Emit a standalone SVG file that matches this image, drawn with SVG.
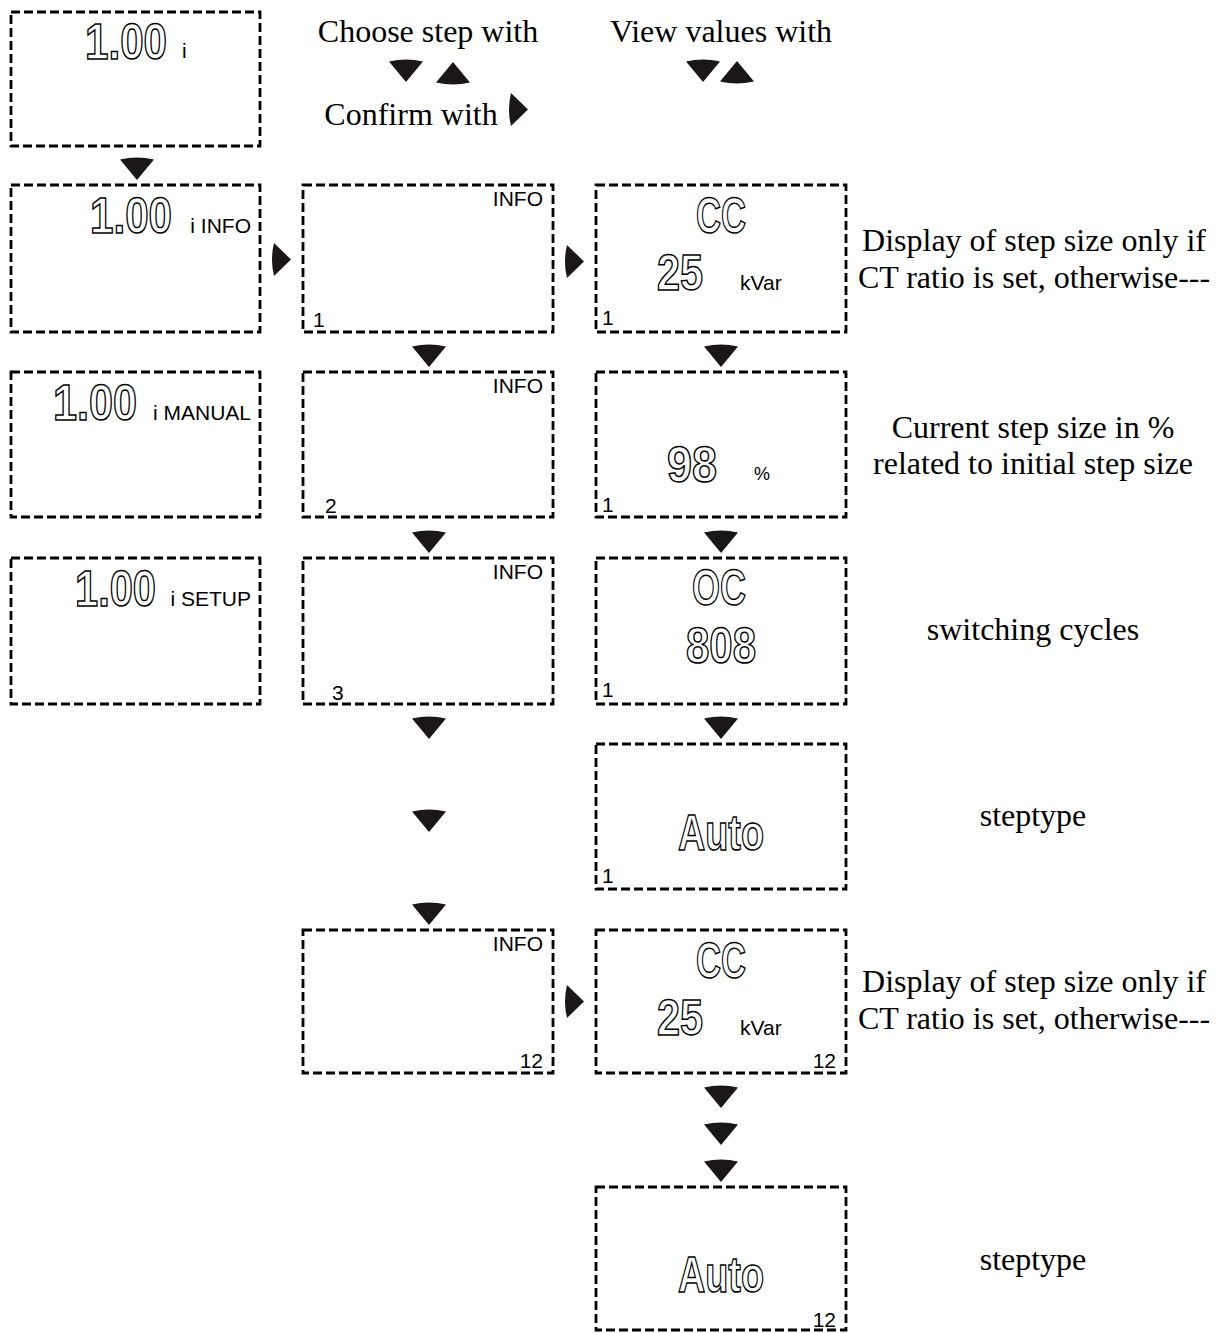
<svg xmlns="http://www.w3.org/2000/svg" xmlns:xlink="http://www.w3.org/1999/xlink" width="1219" height="1333" viewBox="0 0 1219 1333">
<style>
.box{fill:none;stroke:#000;stroke-width:2.8;stroke-dasharray:9,4}
.big{font-family:"Liberation Sans",Arial,sans-serif;font-size:50px;font-weight:bold;fill:#fff;stroke:#000;stroke-width:1.5}
.lbl{font-family:"Liberation Sans",Arial,sans-serif;font-size:21px;fill:#000}
.sm{font-family:"Liberation Sans",Arial,sans-serif;font-size:21px;fill:#000}
.tx{font-family:"Liberation Serif","Times New Roman",serif;font-size:32px;fill:#000;text-anchor:middle}
.tri{fill:#1a1716}
</style>
<defs>
<path id="dn" class="tri" d="M-17,1.5 Q0,-2.5 17,1.5 L0,22 Z"/>
<path id="up" class="tri" d="M-17,20.5 Q0,24.5 17,20.5 L0,0 Z"/>
<path id="rt" class="tri" d="M0,0 Q-4,16.5 0,33 L17,16.5 Z"/>
</defs>
<rect width="1219" height="1333" fill="#fff"/>

<g id="header">
<text class="tx" x="428" y="42">Choose step with</text>
<use xlink:href="#dn" x="406" y="60"/>
<use xlink:href="#up" x="453" y="62"/>
<text class="tx" x="411" y="125">Confirm with</text>
<use xlink:href="#rt" x="511" y="93"/>
<text class="tx" x="721" y="42">View values with</text>
<use xlink:href="#dn" x="703" y="60"/>
<use xlink:href="#up" x="737" y="61"/>
</g>

<g id="connectors">
<use xlink:href="#dn" x="137" y="158"/>
<use xlink:href="#rt" x="274" y="243"/>
<use xlink:href="#rt" x="567" y="245"/>
<use xlink:href="#rt" x="567" y="985"/>
<use xlink:href="#dn" x="429" y="345"/>
<use xlink:href="#dn" x="429" y="531"/>
<use xlink:href="#dn" x="429" y="717"/>
<use xlink:href="#dn" x="429" y="810"/>
<use xlink:href="#dn" x="429" y="903"/>
<use xlink:href="#dn" x="721" y="345"/>
<use xlink:href="#dn" x="721" y="531"/>
<use xlink:href="#dn" x="721" y="717"/>
<use xlink:href="#dn" x="721" y="1086"/>
<use xlink:href="#dn" x="721" y="1123"/>
<use xlink:href="#dn" x="721" y="1160"/>
</g>

<g id="box-main">
<rect class="box" x="11" y="12" width="249" height="134"/>
<text class="big" x="85" y="59" textLength="82" lengthAdjust="spacingAndGlyphs">1.00</text>
<text class="lbl" x="182" y="58">i</text>
</g>
<g id="box-info">
<rect class="box" x="11" y="185" width="249" height="147"/>
<text class="big" x="90" y="233" textLength="82" lengthAdjust="spacingAndGlyphs">1.00</text>
<text class="lbl" x="251" y="233" text-anchor="end">i INFO</text>
</g>
<g id="box-manual">
<rect class="box" x="11" y="372" width="249" height="145"/>
<text class="big" x="53" y="420" textLength="84" lengthAdjust="spacingAndGlyphs">1.00</text>
<text class="lbl" x="251" y="420" text-anchor="end">i MANUAL</text>
</g>
<g id="box-setup">
<rect class="box" x="11" y="558" width="249" height="146"/>
<text class="big" x="75" y="606" textLength="81" lengthAdjust="spacingAndGlyphs">1.00</text>
<text class="lbl" x="251" y="606" text-anchor="end">i SETUP</text>
</g>

<g id="step-1">
<rect class="box" x="303" y="185" width="250" height="147"/>
<text class="lbl" x="543" y="206" text-anchor="end">INFO</text>
<text class="sm" x="313" y="327">1</text>
</g>
<g id="step-2">
<rect class="box" x="303" y="372" width="250" height="145"/>
<text class="lbl" x="543" y="393" text-anchor="end">INFO</text>
<text class="sm" x="325" y="513">2</text>
</g>
<g id="step-3">
<rect class="box" x="303" y="558" width="250" height="146"/>
<text class="lbl" x="543" y="579" text-anchor="end">INFO</text>
<text class="sm" x="332" y="700">3</text>
</g>
<g id="step-12">
<rect class="box" x="303" y="930" width="250" height="143"/>
<text class="lbl" x="543" y="951" text-anchor="end">INFO</text>
<text class="sm" x="543" y="1068" text-anchor="end">12</text>
</g>

<g id="val-cc-1">
<rect class="box" x="596" y="185" width="250" height="147"/>
<text class="big" x="696" y="233" textLength="50" lengthAdjust="spacingAndGlyphs">CC</text>
<text class="big" x="657" y="290" textLength="46" lengthAdjust="spacingAndGlyphs">25</text>
<text class="sm" x="740" y="290">kVar</text>
<text class="sm" x="602" y="325">1</text>
</g>
<g id="val-pct-1">
<rect class="box" x="596" y="372" width="250" height="145"/>
<text class="big" x="667" y="482" textLength="50" lengthAdjust="spacingAndGlyphs">98</text>
<text class="sm" x="754" y="480" style="font-size:18px">%</text>
<text class="sm" x="602" y="512">1</text>
</g>
<g id="val-oc-1">
<rect class="box" x="596" y="558" width="250" height="146"/>
<text class="big" x="692" y="605" textLength="54" lengthAdjust="spacingAndGlyphs">OC</text>
<text class="big" x="686" y="663" textLength="70" lengthAdjust="spacingAndGlyphs">808</text>
<text class="sm" x="602" y="697">1</text>
</g>
<g id="val-auto-1">
<rect class="box" x="596" y="744" width="250" height="145"/>
<text class="big" x="678" y="850" textLength="86" lengthAdjust="spacingAndGlyphs">Auto</text>
<text class="sm" x="602" y="883">1</text>
</g>
<g id="val-cc-12">
<rect class="box" x="596" y="930" width="250" height="143"/>
<text class="big" x="696" y="978" textLength="50" lengthAdjust="spacingAndGlyphs">CC</text>
<text class="big" x="657" y="1035" textLength="46" lengthAdjust="spacingAndGlyphs">25</text>
<text class="sm" x="740" y="1035">kVar</text>
<text class="sm" x="836" y="1068" text-anchor="end">12</text>
</g>
<g id="val-auto-12">
<rect class="box" x="596" y="1187" width="250" height="143"/>
<text class="big" x="678" y="1292" textLength="86" lengthAdjust="spacingAndGlyphs">Auto</text>
<text class="sm" x="836" y="1327" text-anchor="end">12</text>
</g>

<g id="notes">
<text class="tx" x="1034" y="251">Display of step size only if</text>
<text class="tx" x="1034" y="288">CT ratio is set, otherwise---</text>
<text class="tx" x="1033" y="438">Current step size in %</text>
<text class="tx" x="1033" y="474">related to initial step size</text>
<text class="tx" x="1033" y="640">switching cycles</text>
<text class="tx" x="1033" y="826">steptype</text>
<text class="tx" x="1034" y="992">Display of step size only if</text>
<text class="tx" x="1034" y="1029">CT ratio is set, otherwise---</text>
<text class="tx" x="1033" y="1270">steptype</text>
</g>
</svg>
